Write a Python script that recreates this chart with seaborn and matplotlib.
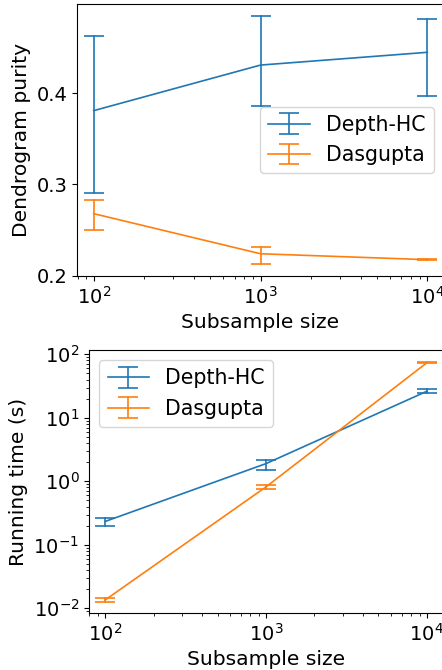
import numpy as np
import pandas as pd
import matplotlib
matplotlib.use("Agg")
import matplotlib.pyplot as plt
import seaborn as sns

# ---- data ----
sizes = [100, 1000, 10000]
methods = ["Depth-HC", "Dasgupta"]

purity_depth_mean = [0.381, 0.431, 0.445]
purity_depth_lo = [0.291, 0.3865, 0.397]
purity_depth_hi = [0.463, 0.485, 0.482]
purity_dasg_mean = [0.268, 0.224, 0.2175]
purity_dasg_lo = [0.2498, 0.2132, 0.2168]
purity_dasg_hi = [0.2828, 0.2315, 0.2182]

time_depth_mean = [0.233, 1.90, 26.2]
time_depth_lo = [0.200, 1.53, 24.4]
time_depth_hi = [0.269, 2.14, 28.7]
time_dasg_mean = [0.0135, 0.817, 73.8]
time_dasg_lo = [0.0127, 0.760, 72.0]
time_dasg_hi = [0.0147, 0.865, 75.5]

colors = ["#1f77b4", "#ff7f0e"]


def build(mean_lists, lo_lists, hi_lists):
    rows = []
    for m, means, los, his in zip(methods, mean_lists, lo_lists, hi_lists):
        for s, mu, lo, hi in zip(sizes, means, los, his):
            for v in (lo, mu, hi):
                rows.append({"size": s, "value": v, "method": m})
    return pd.DataFrame(rows)


df_purity = build([purity_depth_mean, purity_dasg_mean],
                  [purity_depth_lo, purity_dasg_lo],
                  [purity_depth_hi, purity_dasg_hi])
df_time = build([time_depth_mean, time_dasg_mean],
                [time_depth_lo, time_dasg_lo],
                [time_depth_hi, time_dasg_hi])

plt.rcParams["font.family"] = ["DejaVu Sans"]
FS_TICK = 14
FS_LABEL = 14.6
FS_LEG = 14.8
LW = 1.2
CAP = 7.5

fig = plt.figure(figsize=(4.42, 6.70), dpi=100)
ax1 = fig.add_axes([77 / 442, (670 - 276) / 670, (444 - 77) / 442, 272 / 670])
ax2 = fig.add_axes([89 / 442, (670 - 613) / 670, (443 - 89) / 442, 263 / 670])


def draw(ax, df, ylabel, logy, legend_loc):
    ax.set_xscale("log")
    if logy:
        ax.set_yscale("log")
    sns.lineplot(data=df, x="size", y="value", hue="method", hue_order=methods,
                 palette=colors, estimator=np.median,
                 errorbar=lambda v: (v.min(), v.max()),
                 err_style="bars", linewidth=LW,
                 err_kws={"capsize": CAP, "elinewidth": LW, "capthick": LW},
                 legend=False, ax=ax)
    handles = []
    for m, c in zip(methods, colors):
        h = ax.errorbar([np.nan], [np.nan], yerr=[np.nan], color=c, lw=LW,
                        capsize=CAP, elinewidth=LW, capthick=LW, label=m)
        handles.append(h)
    ax.legend(handles=handles, labels=methods, loc=legend_loc, fontsize=FS_LEG)
    ax.set_xlabel("Subsample size", fontsize=FS_LABEL)
    ax.set_ylabel(ylabel, fontsize=FS_LABEL)
    ax.tick_params(labelsize=FS_TICK)


draw(ax1, df_purity, "Dendrogram purity", False, "center right")
draw(ax2, df_time, "Running time (s)", True, "upper left")
ax1.set_yticks([0.2, 0.3, 0.4])
ax1.set_ylim(0.1996, 0.498)
ax1.set_xlim(10 ** 1.9, 10 ** 4.1)
ax2.set_xlim(10 ** 1.9, 10 ** 4.1)
ax2.set_ylim(10 ** -2.074, 10 ** 2.068)

fig.savefig("out.png", dpi=100)
